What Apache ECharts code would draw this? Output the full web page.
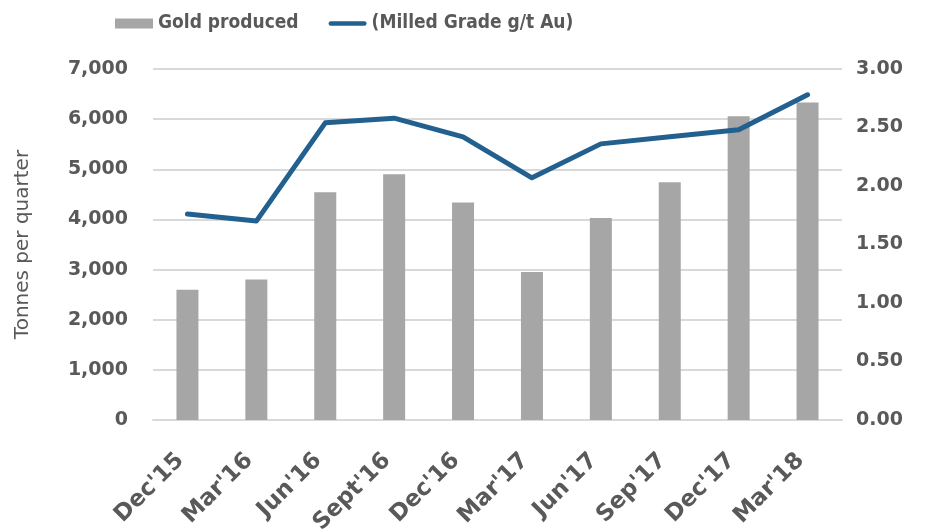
<!DOCTYPE html>
<html>
<head>
<meta charset="utf-8">
<title>Gold produced vs Milled Grade</title>
<script src="https://cdn.jsdelivr.net/npm/echarts@6/dist/echarts.min.js"></script>
<style>
    html, body { margin: 0; padding: 0; background: #fff; }
    #chart { width: 939px; height: 530px; }
</style>
</head>
<body>
<div id="chart"></div>
<script type="text/javascript">
// quarters
var quarters = ["Dec'15", "Mar'16", "Jun'16", "Sept'16", "Dec'16", "Mar'17", "Jun'17", "Sep'17", "Dec'17", "Mar'18"];
// tonnes per quarter
var goldProduced = [2600, 2800, 4540, 4900, 4340, 2950, 4030, 4740, 6060, 6330];
// milled grade g/t Au
var milledGrade = [1.76, 1.70, 2.54, 2.58, 2.42, 2.07, 2.36, 2.42, 2.48, 2.78];

var textColor = '#595959';
var fontName = 'DejaVu Sans';
var lineColor = '#22608f';

var chart = echarts.init(document.getElementById('chart'));
chart.setOption({
    animation: false,
    textStyle: { fontFamily: fontName },
    legend: {
        top: 9,
        left: 110,
        itemGap: 30,
        itemWidth: 38,
        itemHeight: 10,
        textStyle: { color: textColor, fontSize: 19, fontWeight: 'bold', fontFamily: 'DejaVu Sans Condensed' },
        data: [
            { name: 'Gold produced', icon: 'rect' },
            { name: '(Milled Grade g/t Au)', icon: 'path://M2.5,0 L40.5,0 A2.5,2.5 0 0 1 40.5,5 L2.5,5 A2.5,2.5 0 0 1 2.5,0 Z' }
        ]
    },
    grid: { left: 153, right: 97, top: 69, bottom: 110, outerBoundsMode: 'none' },
    xAxis: {
        type: 'category',
        data: quarters,
        axisLine: { lineStyle: { color: '#d9d9d9', width: 2 } },
        axisTick: { show: false },
        axisLabel: {
            rotate: 45,
            interval: 0,
            margin: 30,
            padding: [0, 10, 0, 0],
            color: textColor,
            fontSize: 23,
            fontWeight: 'bold',
            fontFamily: fontName
        }
    },
    yAxis: [
        {
            type: 'value',
            min: 0,
            max: 7000,
            interval: 1000,
            name: 'Tonnes per quarter',
            nameLocation: 'middle',
            nameGap: 120,
            nameTextStyle: { color: textColor, fontSize: 20, fontFamily: fontName },
            axisLabel: {
                color: textColor,
                fontSize: 19,
                fontWeight: 'bold',
                margin: 25,
                formatter: function (v) { return v.toLocaleString('en-US'); }
            },
            splitLine: { lineStyle: { color: '#d9d9d9', width: 2 } }
        },
        {
            type: 'value',
            min: 0,
            max: 3,
            interval: 0.5,
            axisLabel: {
                color: textColor,
                fontSize: 19,
                fontWeight: 'bold',
                margin: 14,
                formatter: function (v) { return v.toFixed(2); }
            },
            splitLine: { show: false }
        }
    ],
    series: [
        {
            name: 'Gold produced',
            type: 'bar',
            data: goldProduced,
            barWidth: 22,
            itemStyle: { color: '#a6a6a6' }
        },
        {
            name: '(Milled Grade g/t Au)',
            type: 'line',
            yAxisIndex: 1,
            data: milledGrade,
            symbol: 'none',
            lineStyle: { color: lineColor, width: 5, cap: 'round', join: 'round' },
            itemStyle: { color: lineColor }
        }
    ]
});
</script>
</body>
</html>
